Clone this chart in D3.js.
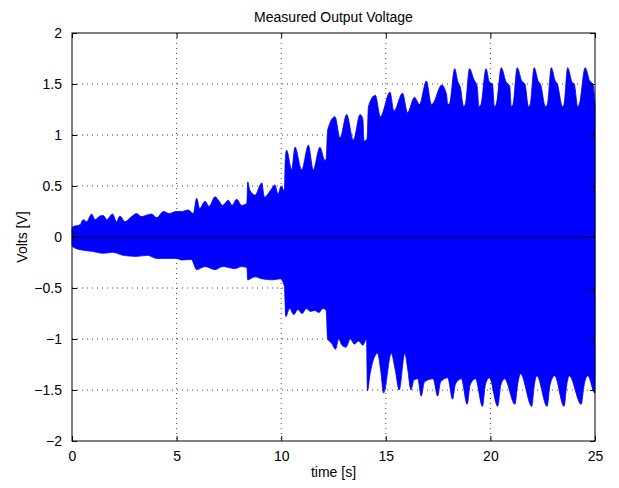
<!DOCTYPE html>
<html>
<head>
<meta charset="utf-8">
<script src="https://cdn.jsdelivr.net/npm/d3@7"></script>
<style>
  body { margin: 0; background: #fff; }
  svg { display: block; font-family: "Liberation Sans", Arial, sans-serif; }
  .tick text { font-size: 14px; fill: #000; }
</style>
</head>
<body>
<div id="container"></div>
<script>
// envelope of the measured signal (top edge / bottom edge)
const upperTime = [0, 0.03, 0.38, 0.54, 0.7, 0.94, 1.1, 1.34, 1.5, 1.66, 1.94, 2.13, 2.29, 2.53, 2.85, 3.09, 3.3, 3.8, 4.05, 4.37, 4.65, 4.97,
    5.24, 5.56, 5.8, 5.96, 6.1, 6.36, 6.55, 6.84, 7.0, 7.2, 7.47, 7.65, 7.87, 8.11, 8.36, 8.4, 8.5, 8.75, 9.07, 9.2, 9.5, 9.7, 9.85, 10.0, 10.15,
    10.2, 10.26, 10.5, 10.66, 10.98, 11.3, 11.53, 11.85, 12.09, 12.15,
    12.22, 12.57, 12.81, 13.13, 13.45, 13.77, 13.9, 13.96, 14.1,
    14.17, 14.5, 14.74, 15.2, 15.39, 15.8, 16.04, 16.37, 16.61, 16.94, 17.18, 17.26,
    17.67, 17.9, 17.96, 18.05, 18.29, 18.45, 18.56, 18.72, 18.8,
    19.0, 19.2, 19.37, 19.45, 19.55, 19.79, 19.95, 20.1, 20.19, 20.28,
    20.52, 20.75, 20.92, 21.0, 21.08, 21.28, 21.5, 21.65, 21.82, 21.9,
    22.09, 22.3, 22.39, 22.63, 22.72, 22.91, 23.1, 23.2, 23.44, 23.52,
    23.69, 23.9, 24.01, 24.17, 24.25, 24.53, 24.75, 24.9, 25];
const upperVolts = [0.08, 0.10, 0.12, 0.17, 0.15, 0.225, 0.17, 0.206, 0.21, 0.17, 0.225, 0.15, 0.206, 0.15, 0.2, 0.23, 0.2, 0.225, 0.19, 0.25, 0.23, 0.25,
    0.25, 0.265, 0.23, 0.38, 0.28, 0.35, 0.3, 0.395, 0.36, 0.31, 0.36, 0.31, 0.37, 0.31, 0.33, 0.54, 0.46, 0.41, 0.53, 0.39, 0.46, 0.51, 0.42, 0.5, 0.45,
    0.78, 0.85, 0.66, 0.88, 0.66, 0.9, 0.66, 0.88, 0.75, 0.77,
    1.05, 1.18, 0.97, 1.2, 0.95, 1.2, 1.16, 0.94, 0.96,
    1.28, 1.39, 1.18, 1.42, 1.235, 1.41, 1.22, 1.37, 1.3, 1.53, 1.3, 1.31,
    1.49, 1.4, 1.3, 1.31, 1.65, 1.52, 1.47, 1.28, 1.3,
    1.65, 1.55, 1.47, 1.28, 1.3, 1.65, 1.52, 1.5, 1.28, 1.3,
    1.66, 1.52, 1.48, 1.28, 1.3, 1.66, 1.53, 1.5, 1.28, 1.3,
    1.66, 1.52, 1.5, 1.28, 1.3, 1.66, 1.53, 1.5, 1.28, 1.3,
    1.66, 1.52, 1.5, 1.28, 1.3, 1.66, 1.53, 1.5, 1.3];

const lowerTime = [0, 0.03, 0.54, 0.94, 1.5, 1.94, 2.45, 3.09, 3.6, 4.05, 4.65, 4.97, 5.24, 5.7, 5.96, 6.36, 6.84, 7.2, 7.8, 8.1,
    8.36, 8.4, 8.75, 9.07, 9.6, 9.95, 10.15,
    10.22, 10.4, 10.6, 10.8, 11.0, 11.2, 11.4, 11.6, 11.8, 12.0, 12.15,
    12.22, 12.4, 12.6, 12.75, 12.9, 13.1, 13.3, 13.5, 13.7, 13.9, 14.08,
    14.12, 14.25, 14.61, 14.75, 14.9, 15.26, 15.45, 15.64, 15.91, 16.05, 16.2, 16.35, 16.53, 16.69, 16.85,
    17.26, 17.48, 17.62, 17.96, 18.19, 18.33, 18.61, 18.89, 19.03, 19.29, 19.62, 19.76, 19.95,
    20.35, 20.5, 20.68, 21.17, 21.3, 21.44, 21.98, 22.1, 22.22, 22.71, 22.85, 23.07,
    23.52, 23.65, 23.77, 24.34, 24.48, 24.66, 24.99, 25];
const lowerVolts = [-0.07, -0.095, -0.13, -0.14, -0.16, -0.15, -0.18, -0.19, -0.18, -0.21, -0.21, -0.21, -0.225, -0.22, -0.32, -0.29, -0.32, -0.29, -0.31, -0.29,
    -0.3, -0.42, -0.39, -0.41, -0.42, -0.41, -0.48,
    -0.78, -0.7, -0.76, -0.71, -0.75, -0.7, -0.73, -0.72, -0.74, -0.7, -0.72,
    -1.0, -1.04, -1.1, -1.0, -1.06, -1.08, -1.0, -1.05, -1.02, -1.06, -1.0,
    -1.51, -1.34, -1.14, -1.3, -1.53, -1.14, -1.3, -1.5, -1.14, -1.3, -1.5, -1.4, -1.39, -1.56, -1.42,
    -1.39, -1.56, -1.42, -1.38, -1.59, -1.44, -1.39, -1.64, -1.45, -1.39, -1.66, -1.45, -1.38,
    -1.66, -1.45, -1.39, -1.64, -1.45, -1.34, -1.66, -1.45, -1.36, -1.66, -1.45, -1.36,
    -1.66, -1.45, -1.36, -1.64, -1.45, -1.36, -1.53, -1.38];

const xTicks = [0, 5, 10, 15, 20, 25];
const yTicks = [-2, -1.5, -1, -0.5, 0, 0.5, 1, 1.5, 2];

const width = 619;
const height = 488;
const margin = { top: 33, right: 24, bottom: 47, left: 72 };
const innerW = width - margin.left - margin.right;
const innerH = height - margin.top - margin.bottom;

const svg = d3.select('#container')
              .append('svg')
              .attr('width', width)
              .attr('height', height);

const x = d3.scaleLinear().domain([0, 25]).range([0, innerW]);
const y = d3.scaleLinear().domain([-2, 2]).range([innerH, 0]);

const g = svg.append('g')
             .attr('transform', 'translate(' + margin.left + ',' + margin.top + ')');

const fmt = d => d3.format('')(d).replace('-', '\u2212');

// dotted grid
g.append('g')
 .selectAll('line')
 .data(xTicks.slice(1, -1))
 .enter()
 .append('line')
 .attr('x1', d => x(d)).attr('x2', d => x(d))
 .attr('y1', 0).attr('y2', innerH)
 .attr('stroke', '#444')
 .attr('stroke-dasharray', '1,4');
g.append('g')
 .selectAll('line')
 .data(yTicks.slice(1, -1))
 .enter()
 .append('line')
 .attr('y1', d => y(d)).attr('y2', d => y(d))
 .attr('x1', 0).attr('x2', innerW)
 .attr('stroke', '#444')
 .attr('stroke-dasharray', '1,4');

// signal envelope: one area above zero, one below
const upper = upperTime.map((t, i) => [t, upperVolts[i]]);
const lower = lowerTime.map((t, i) => [t, lowerVolts[i]]);

const area = d3.area()
               .x(d => x(d[0]))
               .y0(y(0))
               .y1(d => y(d[1]))
               .curve(d3.curveMonotoneX);

[upper, lower].forEach(edge => {
    g.append('path')
     .datum(edge)
     .attr('d', area)
     .attr('fill', '#0000ff')
     .attr('stroke', '#0000ff')
     .attr('stroke-width', 0.8);
});

g.append('line')
 .attr('x1', 0).attr('x2', innerW)
 .attr('y1', y(0)).attr('y2', y(0))
 .attr('stroke', '#000022')
 .attr('stroke-width', 1.2);

// axes with inward ticks on all four sides
g.append('g')
 .attr('transform', 'translate(0,' + innerH + ')')
 .call(d3.axisBottom(x).tickValues(xTicks).tickFormat(fmt).tickSizeInner(-5).tickSizeOuter(0).tickPadding(10));
g.append('g')
 .call(d3.axisTop(x).tickValues(xTicks).tickFormat('').tickSizeInner(-5).tickSizeOuter(0));
g.append('g')
 .call(d3.axisLeft(y).tickValues(yTicks).tickFormat(fmt).tickSizeInner(-5).tickSizeOuter(0).tickPadding(10));
g.append('g')
 .attr('transform', 'translate(' + innerW + ',0)')
 .call(d3.axisRight(y).tickValues(yTicks).tickFormat('').tickSizeInner(-5).tickSizeOuter(0));

g.selectAll('.domain').remove();
g.append('rect')
 .attr('width', innerW)
 .attr('height', innerH)
 .attr('fill', 'none')
 .attr('stroke', '#000')
 .attr('stroke-width', 1);

svg.append('text')
   .attr('x', margin.left + innerW / 2)
   .attr('y', 22)
   .attr('text-anchor', 'middle')
   .attr('font-size', 14)
   .text('Measured Output Voltage');

svg.append('text')
   .attr('x', margin.left + innerW / 2)
   .attr('y', 477)
   .attr('text-anchor', 'middle')
   .attr('font-size', 14)
   .text('time [s]');

svg.append('text')
   .attr('transform', 'translate(27,' + (margin.top + innerH / 2) + ') rotate(-90)')
   .attr('text-anchor', 'middle')
   .attr('font-size', 14)
   .text('Volts [V]');
</script>
</body>
</html>
